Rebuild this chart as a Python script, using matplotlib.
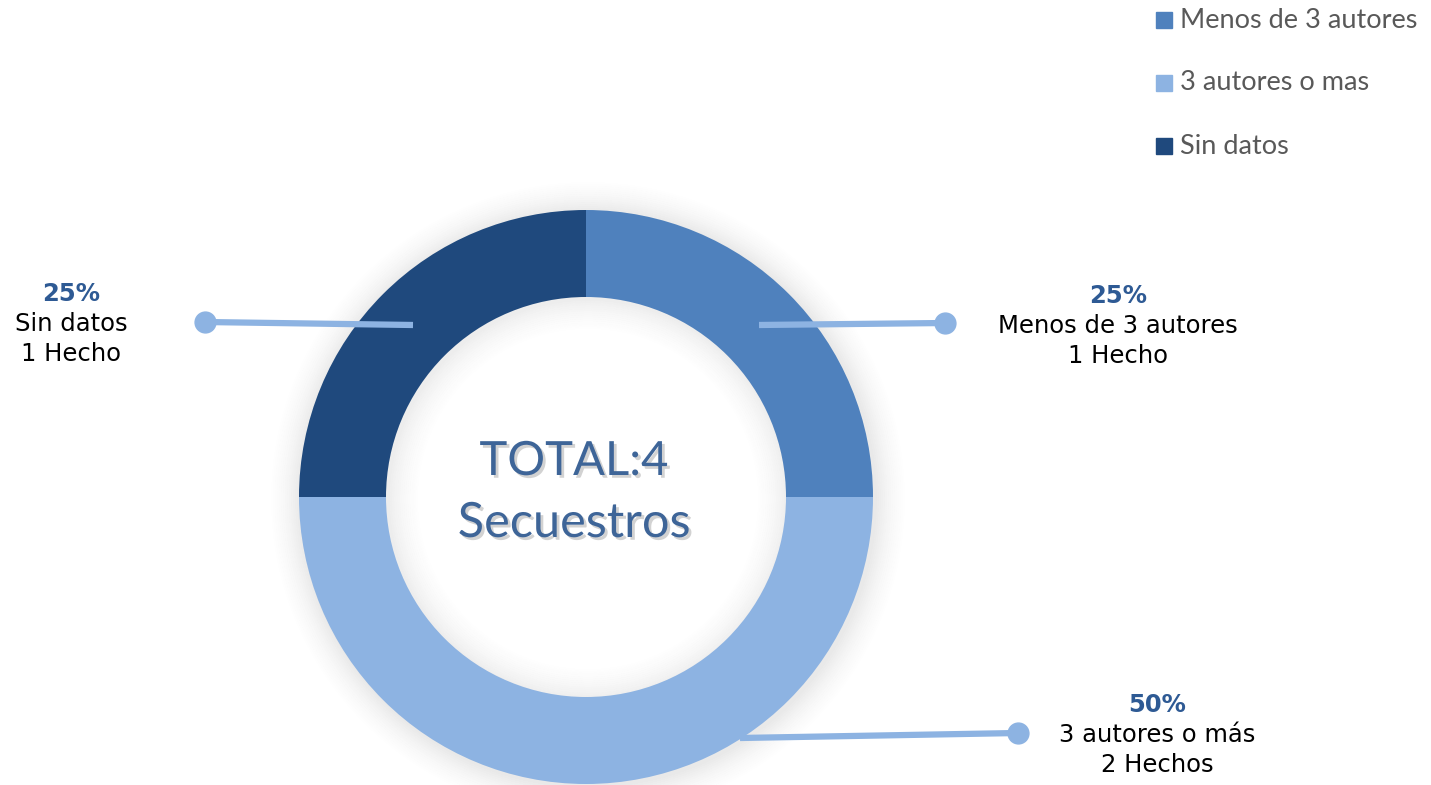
import matplotlib.pyplot as plt
import matplotlib.patheffects as pe
from matplotlib.patches import Wedge

# data
categorias = ['Menos de 3 autores', '3 autores o mas', 'Sin datos']
hechos = [1, 2, 1]
porcentajes = ['25%', '50%', '25%']
etiquetas = [['Menos de 3 autores', '1 Hecho'],
             ['3 autores o más', '2 Hechos'],
             ['Sin datos', '1 Hecho']]
colores = ['#4F81BD', '#8DB3E2', '#1F497D']

W, H = 1431, 785
fig = plt.figure(figsize=(W / 100, H / 100), dpi=100)
ax = fig.add_axes([0, 0, 1, 1])

cx, cy = 586, H - 497
r_out, r_in = 287, 200

# soft shadow, outside and inside the ring
n = 16
for i in range(n):
    a = 0.16 * (1 - i / n) ** 1.6
    ax.add_patch(Wedge((cx + 2, cy - 2), r_out + 2 * (i + 1), 0, 360, width=2 if i else 8,
                       color='#7a7a7a', alpha=a, lw=0, zorder=1))
    ax.add_patch(Wedge((cx + 2, cy - 2), r_in - 2 * i + (6 if i == 0 else 0), 0, 360,
                       width=8 if i == 0 else 2,
                       color='#7a7a7a', alpha=a * 0.8, lw=0, zorder=1))

ax.pie(hechos, colors=colores, startangle=90, counterclock=False,
       radius=r_out, center=(cx, cy),
       wedgeprops=dict(width=r_out - r_in, linewidth=0, zorder=2), frame=True)
ax.set_xlim(0, W)
ax.set_ylim(0, H)
ax.set_aspect('equal')
ax.axis('off')

# center text
sombra = [pe.withSimplePatchShadow(offset=(2, -2), shadow_rgbFace='#7f7f7f', alpha=0.35)]
ax.text(574, H - 462, 'TOTAL:4', ha='center', va='center', fontsize=34,
        color='#3E6598', family='Lato', path_effects=sombra, zorder=5)
ax.text(574, H - 523, 'Secuestros', ha='center', va='center', fontsize=35,
        color='#3E6598', family='Lato', path_effects=sombra, zorder=5)

# leader lines
lc = '#8DB3E2'
lineas = [((759, 325), (945, 323)), ((740, 738), (1018, 733)), ((413, 325), (205, 322))]
for (x0, y0), (x1, y1) in lineas:
    ax.plot([x0, x1], [H - y0, H - y1], color=lc, lw=4.5, solid_capstyle='butt', zorder=4)
    ax.plot([x1], [H - y1], 'o', color=lc, ms=15, zorder=4)

# data labels
pos = [(1118, 296), (1157, 705), (71, 294)]
for (x, y), p, t in zip(pos, porcentajes, etiquetas):
    ax.text(x, H - y, p, ha='center', va='center', fontsize=17.5, fontweight='bold',
            color='#2E5A94', family='DejaVu Sans', zorder=5)
    for j, linea in enumerate(t):
        ax.text(x, H - y - 30 * (j + 1), linea, ha='center', va='center', fontsize=17.5,
                color='black', family='DejaVu Sans', zorder=5)

# legend
for i, (c, nombre) in enumerate(zip(colores, categorias)):
    y = H - (20 + i * 63)
    ax.plot([1164], [y], 's', color=c, ms=11)
    ax.text(1180, y, nombre, ha='left', va='center', fontsize=19.5, color='#595959', family='Lato')

fig.savefig('out.png', dpi=100)
